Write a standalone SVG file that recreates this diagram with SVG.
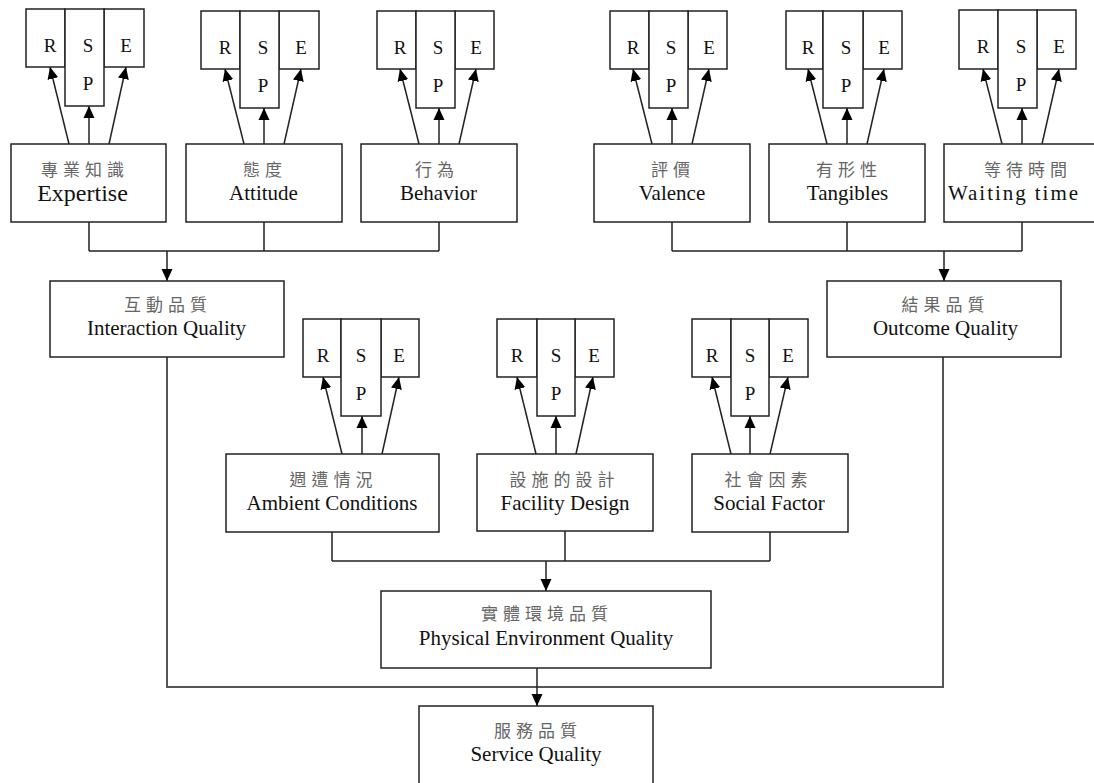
<svg xmlns="http://www.w3.org/2000/svg" width="1094" height="783" viewBox="0 0 1094 783">
<style>
.box{fill:#fff;stroke:#222;stroke-width:1.5}
.en{font-family:"Liberation Serif","Times New Roman",serif;font-size:21px;fill:#111;text-anchor:middle}
.zh{font-family:"Noto Sans CJK TC","Noto Sans CJK SC",sans-serif;font-size:17px;fill:#666;letter-spacing:5px;text-anchor:middle}
.lt{font-family:"Liberation Serif","Times New Roman",serif;font-size:19px;fill:#111;text-anchor:middle}
.ln{fill:none;stroke:#222;stroke-width:1.5}
.lp{fill:none;stroke:#555;stroke-width:2}
.ar{fill:none;stroke:#222;stroke-width:1.5;marker-end:url(#ah)}
</style>
<defs>
<marker id="ah" markerUnits="userSpaceOnUse" markerWidth="12" markerHeight="12" viewBox="0 0 12 12" refX="12" refY="6" orient="auto">
<path d="M0,0.5 L12,6 L0,11.5 z" fill="#000"/>
</marker>
</defs>
<rect width="1094" height="783" fill="#fff"/>

<g id="connectors">
<path class="ln" d="M89,222 V251 M264,222 V251 M439,222 V251 M89,251 H439"/>
<path class="ar" d="M167,251 V281"/>
<path class="ln" d="M672,222 V251 M847,222 V251 M1022,222 V251 M672,251 H1022"/>
<path class="ar" d="M944,251 V281"/>
<path class="ln" d="M332,532 V561 M565,531 V561 M770,532 V561 M332,561 H770"/>
<path class="ar" d="M546,561 V591"/>
<path class="lp" d="M167,357 V687 H943 V357"/>
<path class="ar" d="M537,668 V706"/>
<!-- RSP arrows -->
<path class="ar" d="M69,144 L50,67"/><path class="ar" d="M89,144 V106"/><path class="ar" d="M109,144 L126,67"/>
<path class="ar" d="M244,144 L225,69"/><path class="ar" d="M264,144 V108"/><path class="ar" d="M284,144 L301,69"/>
<path class="ar" d="M419,144 L400,69"/><path class="ar" d="M439,144 V108"/><path class="ar" d="M459,144 L476,69"/>
<path class="ar" d="M652,144 L633,69"/><path class="ar" d="M672,144 V108"/><path class="ar" d="M692,144 L709,69"/>
<path class="ar" d="M827,144 L808,69"/><path class="ar" d="M847,144 V108"/><path class="ar" d="M867,144 L884,69"/>
<path class="ar" d="M1002,144 L983,69"/><path class="ar" d="M1022,144 V108"/><path class="ar" d="M1042,144 L1059,69"/>
<path class="ar" d="M342,454 L323,377"/><path class="ar" d="M362,454 V416"/><path class="ar" d="M382,454 L399,377"/>
<path class="ar" d="M536,454 L517,377"/><path class="ar" d="M556,454 V416"/><path class="ar" d="M576,454 L593,377"/>
<path class="ar" d="M731,454 L712,377"/><path class="ar" d="M750,454 V416"/><path class="ar" d="M770,454 L788,377"/>
</g>

<!-- RSP groups -->
<g id="rsp-expertise">
<rect class="box" x="26" y="9" width="39" height="58"/><rect class="box" x="104" y="9" width="40" height="58"/><rect class="box" x="65" y="9" width="39" height="97"/>
<text class="lt" x="50" y="52">R</text><text class="lt" x="88" y="52">S</text><text class="lt" x="88" y="90">P</text><text class="lt" x="126" y="52">E</text>
</g>
<g id="rsp-attitude">
<rect class="box" x="201" y="11" width="39" height="58"/><rect class="box" x="279" y="11" width="40" height="58"/><rect class="box" x="240" y="11" width="39" height="97"/>
<text class="lt" x="225" y="54">R</text><text class="lt" x="263" y="54">S</text><text class="lt" x="263" y="92">P</text><text class="lt" x="301" y="54">E</text>
</g>
<g id="rsp-behavior">
<rect class="box" x="377" y="11" width="39" height="58"/><rect class="box" x="455" y="11" width="39" height="58"/><rect class="box" x="416" y="11" width="39" height="97"/>
<text class="lt" x="400" y="54">R</text><text class="lt" x="438" y="54">S</text><text class="lt" x="438" y="92">P</text><text class="lt" x="476" y="54">E</text>
</g>
<g id="rsp-valence">
<rect class="box" x="610" y="11" width="39" height="58"/><rect class="box" x="688" y="11" width="39" height="58"/><rect class="box" x="649" y="11" width="39" height="97"/>
<text class="lt" x="633" y="54">R</text><text class="lt" x="671" y="54">S</text><text class="lt" x="671" y="92">P</text><text class="lt" x="709" y="54">E</text>
</g>
<g id="rsp-tangibles">
<rect class="box" x="786" y="11" width="37" height="58"/><rect class="box" x="863" y="11" width="39" height="58"/><rect class="box" x="823" y="11" width="40" height="97"/>
<text class="lt" x="808" y="54">R</text><text class="lt" x="846" y="54">S</text><text class="lt" x="846" y="92">P</text><text class="lt" x="884" y="54">E</text>
</g>
<g id="rsp-waiting">
<rect class="box" x="959" y="10" width="39" height="59"/><rect class="box" x="1037" y="10" width="39" height="59"/><rect class="box" x="998" y="10" width="39" height="98"/>
<text class="lt" x="983" y="53">R</text><text class="lt" x="1021" y="53">S</text><text class="lt" x="1021" y="91">P</text><text class="lt" x="1059" y="53">E</text>
</g>
<g id="rsp-ambient">
<rect class="box" x="303" y="319" width="38" height="58"/><rect class="box" x="381" y="319" width="38" height="58"/><rect class="box" x="341" y="319" width="40" height="97"/>
<text class="lt" x="323" y="362">R</text><text class="lt" x="361" y="362">S</text><text class="lt" x="361" y="400">P</text><text class="lt" x="399" y="362">E</text>
</g>
<g id="rsp-facility">
<rect class="box" x="497" y="319" width="40" height="58"/><rect class="box" x="575" y="319" width="39" height="58"/><rect class="box" x="537" y="319" width="38" height="97"/>
<text class="lt" x="517" y="362">R</text><text class="lt" x="556" y="362">S</text><text class="lt" x="556" y="400">P</text><text class="lt" x="594" y="362">E</text>
</g>
<g id="rsp-social">
<rect class="box" x="692" y="319" width="39" height="58"/><rect class="box" x="769" y="319" width="39" height="58"/><rect class="box" x="731" y="319" width="38" height="97"/>
<text class="lt" x="712" y="362">R</text><text class="lt" x="750" y="362">S</text><text class="lt" x="750" y="400">P</text><text class="lt" x="788" y="362">E</text>
</g>

<!-- main nodes -->
<g id="expertise"><rect class="box" x="11" y="144" width="155" height="78"/>
<text class="zh" x="85" y="176">專業知識</text><text class="en" x="82.5" y="201" style="font-size:24px">Expertise</text></g>
<g id="attitude"><rect class="box" x="186" y="144" width="156" height="78"/>
<text class="zh" x="265" y="176">態度</text><text class="en" x="263.5" y="200">Attitude</text></g>
<g id="behavior"><rect class="box" x="361" y="144" width="156" height="78"/>
<text class="zh" x="437" y="176">行為</text><text class="en" x="438.5" y="200">Behavior</text></g>
<g id="valence"><rect class="box" x="594" y="144" width="156" height="78"/>
<text class="zh" x="673" y="176">評價</text><text class="en" x="672" y="200">Valence</text></g>
<g id="tangibles"><rect class="box" x="769" y="144" width="156" height="78"/>
<text class="zh" x="849" y="176">有形性</text><text class="en" x="847.5" y="200">Tangibles</text></g>
<g id="waiting-time"><rect class="box" x="944" y="144" width="156" height="78"/>
<text class="zh" x="1028" y="176">等待時間</text><text class="en" x="1013" y="200" textLength="130" lengthAdjust="spacing">Waiting time</text></g>
<g id="interaction-quality"><rect class="box" x="50" y="281" width="234" height="76"/>
<text class="zh" x="168" y="311">互動品質</text><text class="en" x="166.5" y="335">Interaction Quality</text></g>
<g id="outcome-quality"><rect class="box" x="827" y="281" width="234" height="76"/>
<text class="zh" x="945.5" y="311">結果品質</text><text class="en" x="945.5" y="335">Outcome Quality</text></g>
<g id="ambient-conditions"><rect class="box" x="226" y="454" width="213" height="78"/>
<text class="zh" x="333.5" y="486">週遭情況</text><text class="en" x="332" y="510">Ambient Conditions</text></g>
<g id="facility-design"><rect class="box" x="477" y="454" width="176" height="77"/>
<text class="zh" x="564.5" y="486">設施的設計</text><text class="en" x="565" y="510">Facility Design</text></g>
<g id="social-factor"><rect class="box" x="692" y="454" width="156" height="78"/>
<text class="zh" x="768.5" y="486">社會因素</text><text class="en" x="769" y="510">Social Factor</text></g>
<g id="physical-environment-quality"><rect class="box" x="381" y="591" width="330" height="77"/>
<text class="zh" x="547" y="620">實體環境品質</text><text class="en" x="546" y="645">Physical Environment Quality</text></g>
<g id="service-quality"><rect class="box" x="419" y="706" width="234" height="90"/>
<text class="zh" x="538" y="737">服務品質</text><text class="en" x="536" y="761">Service Quality</text></g>
</svg>
